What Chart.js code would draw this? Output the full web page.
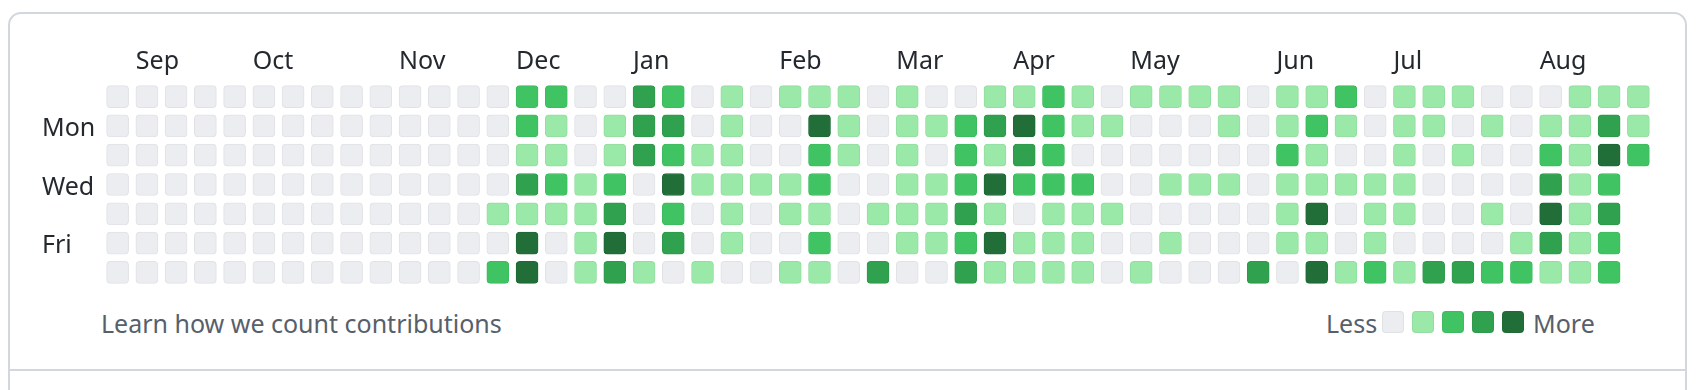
<!DOCTYPE html>
<html>
<head>
<meta charset="utf-8">
<script src="https://cdn.jsdelivr.net/npm/chart.js@4.4.1/dist/chart.umd.min.js"></script>
<style>
  html, body { margin: 0; padding: 0; background: #fff; width: 1703px; height: 390px; overflow: hidden; }
  .card { position: absolute; left: 8px; top: 12px; width: 1679px; height: 430px; border: 2px solid #d0d7de; border-radius: 13px; box-sizing: border-box; }
  .divider { position: absolute; left: 8px; top: 369px; width: 1679px; height: 2px; background: #d0d7de; }
  #chart { position: absolute; left: 0; top: 0; }
  .foot { position: absolute; top: 308px; font-family: "Noto Sans", sans-serif; font-size: 25px; line-height: 30px; color: #57606a; white-space: nowrap; }
  .sw { position: absolute; top: 311px; width: 22px; height: 22px; border-radius: 4px; box-sizing: border-box; border: 1px solid rgba(27, 31, 35, 0.06); }
</style>
</head>
<body>
<div class="card"></div>
<div class="divider"></div>
<canvas id="chart" width="1703" height="305"></canvas>
<div class="foot" style="left:101px">Learn how we count contributions</div>
<div class="foot" style="left:1326px">Less</div>
<div id="swatches"></div>
<div class="foot" style="left:1533px">More</div>
<script>
// contribution level (0-4) per week, one array per weekday row
const sun = [0,0,0,0,0,0,0,0,0,0,0,0,0, 0,2,2,0,0,3,2,0,1,0, 1,1,1,0,1,0,0,1,1,2, 1,0,1,1,1,1,0,1,1,2, 0,1,1,1,0,0,0,1,1,1];
const mon = [0,0,0,0,0,0,0,0,0,0,0,0,0, 0,2,1,0,1,3,3,0,1,0, 0,4,1,0,1,1,2,3,4,2, 1,1,0,0,0,1,0,1,2,1, 0,1,1,0,1,0,1,1,3,1];
const tue = [0,0,0,0,0,0,0,0,0,0,0,0,0, 0,1,1,0,1,3,2,1,1,0, 0,2,1,0,1,0,2,1,3,2, 0,0,0,0,0,0,0,2,1,0, 0,1,0,1,0,0,2,1,4,2];
const wed = [0,0,0,0,0,0,0,0,0,0,0,0,0, 0,3,2,1,2,0,4,1,1,1, 1,2,0,0,1,1,2,4,2,2, 2,0,0,1,1,1,0,1,1,1, 1,1,0,0,0,0,3,1,2,null];
const thu = [0,0,0,0,0,0,0,0,0,0,0,0,0, 1,1,1,1,3,0,2,0,1,0, 1,1,0,1,1,1,3,1,0,1, 1,1,0,0,0,0,0,1,4,0, 1,1,0,0,1,0,4,1,3,null];
const fri = [0,0,0,0,0,0,0,0,0,0,0,0,0, 0,4,0,1,4,0,3,0,1,0, 0,2,0,0,1,1,2,4,1,1, 1,0,0,1,0,0,0,1,1,0, 1,0,0,0,0,1,3,1,2,null];
const sat = [0,0,0,0,0,0,0,0,0,0,0,0,0, 2,4,0,1,3,1,0,1,0,0, 1,1,0,3,0,0,3,1,1,1, 1,0,1,0,0,0,3,0,4,1, 2,1,3,3,2,2,1,1,2,null];

const dayNames = ['Sun', 'Mon', 'Tue', 'Wed', 'Thu', 'Fri', 'Sat'];
const dayLabels = ['', 'Mon', '', 'Wed', '', 'Fri', ''];
const monthLabels = ['Sep', 'Oct', 'Nov', 'Dec', 'Jan', 'Feb', 'Mar', 'Apr', 'May', 'Jun', 'Jul', 'Aug'];
const monthStartWeeks = [1, 5, 10, 14, 18, 23, 27, 31, 35, 40, 44, 49];
const legendLevels = [0, 1, 2, 3, 4];

const weeks = sun.map((_, i) => 'W' + (i + 1));
const levelColors = ['#ebedf0', '#9be9a8', '#40c463', '#30a14e', '#216e39'];
const levelBorders = ['#e0e2e6', '#93dda0', '#3dbb5e', '#2e9a4a', '#206937'];
const textColor = '#24292f';
const labelFont = { family: '"Noto Sans", sans-serif', size: 25 };
const CELL_GAP = 0.123; // part of each row left empty above and below a cell

const rows = [sun, mon, tue, wed, thu, fri, sat];

const datasets = rows.map((levels, r) => ({
  label: dayNames[r],
  data: levels.map(l => l == null ? null : [r + CELL_GAP, r + 1 - CELL_GAP]),
  backgroundColor: levels.map(l => levelColors[l ?? 0]),
  borderColor: levels.map(l => levelBorders[l ?? 0]),
  borderWidth: 1,
  borderRadius: 4,
  borderSkipped: false,
  grouped: false,
  barThickness: 22,
}));

// legend swatches under the grid
const sw = document.getElementById('swatches');
legendLevels.forEach((l, i) => {
  const d = document.createElement('div');
  d.className = 'sw';
  d.style.left = (1382 + i * 30) + 'px';
  d.style.background = levelColors[l];
  sw.appendChild(d);
});

new Chart(document.getElementById('chart'), {
  type: 'bar',
  data: { labels: weeks, datasets: datasets },
  options: {
    responsive: false,
    animation: false,
    layout: { padding: { left: 42, right: 50, top: 0, bottom: 0 } },
    plugins: { legend: { display: false }, tooltip: { enabled: false } },
    scales: {
      x: {
        position: 'top',
        grid: { display: false, drawTicks: false },
        border: { display: false },
        ticks: {
          autoSkip: false,
          maxRotation: 0,
          align: 'start',
          labelOffset: -11,
          padding: 5,
          color: textColor,
          font: labelFont,
          callback: (v, i) => {
            const k = monthStartWeeks.indexOf(i);
            return k >= 0 ? monthLabels[k] : '';
          },
        },
        afterFit: s => { s.height = 82; },
      },
      y: {
        reverse: true,
        min: 0,
        max: 7,
        grid: { display: false, drawTicks: false },
        border: { display: false },
        afterBuildTicks: s => { s.ticks = dayLabels.map((_, i) => ({ value: i + 0.5 })); },
        ticks: {
          crossAlign: 'far',
          labelOffset: 3,
          color: textColor,
          font: labelFont,
          callback: (v, i) => dayLabels[i],
        },
        afterFit: s => { s.width = 61; },
      },
    },
  },
});
</script>
</body>
</html>
